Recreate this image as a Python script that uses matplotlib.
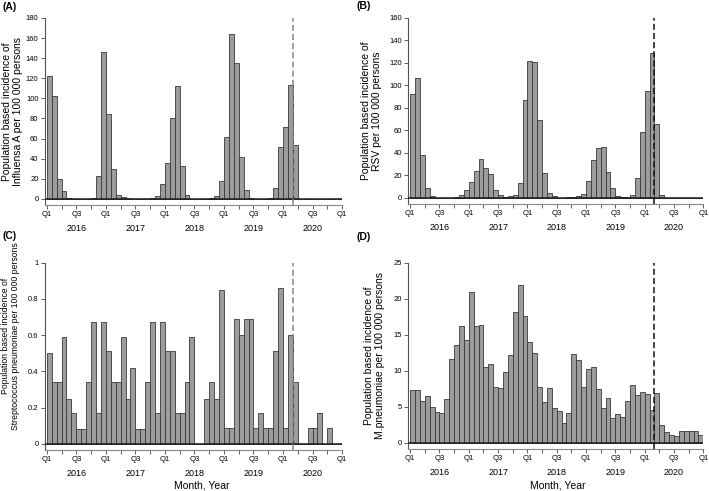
import numpy as np
import matplotlib.pyplot as plt

plt.rcParams['font.family'] = ['Liberation Sans', 'DejaVu Sans']

# monthly population based incidence per 100 000 persons, Jan 2016 - Dec 2020
influenza_a = [122, 102, 20, 8, 1, 0, 0, 0, 0, 1, 23, 146,
               84, 30, 4, 2, 1, 0, 0, 0, 0, 0.5, 3, 15,
               36, 80, 112, 33, 4, 0, 0, 0, 0, 1, 3, 18,
               62, 164, 135, 42, 9, 1, 0, 0, 0, 1, 11, 52,
               71, 113, 54, 0, 0, 0, 0, 0, 0, 0, 0, 0]

rsv = [92, 107, 38, 9, 2, 0.3, 0.3, 0.3, 0.3, 1, 2.5, 7,
       14, 24, 35, 27, 21, 7, 2.5, 1, 1.5, 3, 13, 87,
       122, 121, 69, 22, 4.5, 1.5, 0.3, 0.2, 0.5, 1, 1.5, 3.5,
       15, 34, 44, 45, 23, 8.5, 2, 1, 0.5, 3, 18, 59,
       95, 129, 66, 2.5, 0.3, 0.3, 0.3, 0.2, 0.2, 0.3, 0.2, 0.2]

s_pneumoniae = [0.50, 0.34, 0.34, 0.59, 0.25, 0.17, 0.08, 0.08, 0.34, 0.67, 0.17, 0.67,
                0.51, 0.34, 0.34, 0.59, 0.25, 0.42, 0.08, 0.08, 0.34, 0.67, 0.17, 0.67,
                0.51, 0.51, 0.17, 0.17, 0.34, 0.59, 0, 0, 0.25, 0.34, 0.25, 0.85,
                0.09, 0.09, 0.69, 0.60, 0.69, 0.69, 0.09, 0.17, 0.09, 0.09, 0.51, 0.86,
                0.09, 0.60, 0.34, 0, 0, 0.09, 0.09, 0.17, 0, 0.09, 0, 0]

m_pneumoniae = [7.3, 7.3, 5.8, 6.5, 5.0, 4.3, 4.1, 6.1, 11.7, 13.6, 16.2, 14.3,
                21.0, 16.3, 16.4, 10.6, 10.9, 7.7, 7.6, 9.9, 12.2, 18.2, 21.9, 17.7,
                14.0, 12.5, 7.8, 5.7, 7.6, 4.8, 4.4, 2.8, 4.1, 12.3, 11.5, 7.8,
                10.2, 10.5, 7.5, 4.9, 6.3, 3.5, 4.0, 3.6, 5.8, 8.0, 6.6, 7.1,
                6.8, 4.6, 6.9, 2.5, 1.5, 1.1, 0.9, 1.6, 1.7, 1.6, 1.6, 1.1]

years = ["2016", "2017", "2018", "2019", "2020"]
covid_month = 50  # start of March 2020


'''
draws one panel of monthly bars with the quarter / year axis
'''


def barpanel(ax, values, ymax, ystep, ylabel, line_color, label_size=7.5):
    months = np.arange(len(values))
    ax.bar(months, values, width=1, align='edge', color='#9c9c9c',
           edgecolor='#3a3a3a', linewidth=0.6, zorder=2)
    ax.axhline(0, color='#1a1a1a', lw=1.1, zorder=3)
    ax.axvline(covid_month, color=line_color, ls=(0, (4, 2)), lw=1.1, zorder=4)

    ax.set_xlim(-0.35, len(values))
    ax.set_ylim(-0.034 * ymax, ymax)
    yt = np.arange(0, ymax + ystep / 2, ystep)
    ax.set_yticks(yt)
    ax.set_yticklabels([("%g" % round(v, 2)) for v in yt])

    # quarter ticks, labels only for Q1 and Q3
    qticks = np.arange(0, len(values) + 1, 3)
    qlabels = []
    for q in qticks:
        if q % 12 == 0:
            qlabels.append("Q1")
        elif q % 12 == 6:
            qlabels.append("Q3")
        else:
            qlabels.append("")
    ax.set_xticks(qticks)
    ax.set_xticklabels(qlabels)

    for i, yr in enumerate(years):
        ax.text(6 + 12 * i, -0.125, yr, transform=ax.get_xaxis_transform(),
                ha='center', va='center', fontsize=6.5)

    ax.spines['top'].set_visible(False)
    ax.spines['right'].set_visible(False)
    ax.spines['left'].set_color('#555555')
    ax.spines['bottom'].set_color('#888888')
    ax.spines['left'].set_linewidth(0.8)
    ax.spines['bottom'].set_linewidth(0.8)
    ax.tick_params(axis='y', length=3.2, width=0.6, pad=1.5, labelsize=5.5,
                   color='#444444')
    ax.tick_params(axis='x', length=3.2, width=0.6, pad=1, labelsize=5.5,
                   color='#444444')

    ax.set_ylabel(ylabel, fontsize=label_size, linespacing=1.1)


fig = plt.figure(figsize=(7.09, 4.91), dpi=100)

ax_a = fig.add_axes([0.0635, 0.5825, 0.419, 0.381])
ax_b = fig.add_axes([0.576, 0.5845, 0.416, 0.379])
ax_c = fig.add_axes([0.0635, 0.0835, 0.419, 0.3815])
ax_d = fig.add_axes([0.576, 0.0855, 0.416, 0.3789])

barpanel(ax_a, influenza_a, 180, 20,
         "Population based incidence of\nInfluensa A per 100 000 persons", '#888888')
barpanel(ax_b, rsv, 160, 20,
         "Population based incidence of\nRSV per 100 000 persons", '#111111')
barpanel(ax_c, s_pneumoniae, 1, 0.2,
         "Population based incidence of\nStreptococcus pneumoniae per 100 000 persons",
         '#888888', label_size=6.2)
barpanel(ax_d, m_pneumoniae, 25, 5,
         "Population based incidence of\nM.pneumoniae per 100 000 persons", '#111111')

# y label placement (right edge of the label, axes coords)
ax_a.yaxis.set_label_coords(-0.074, 0.5)
ax_b.yaxis.set_label_coords(-0.09, 0.5)
ax_c.yaxis.set_label_coords(-0.084, 0.609)
ax_d.yaxis.set_label_coords(-0.079, 0.5)

# panel tags
for tag, x, y in [("(A)", 10, 7), ("(B)", 364, 6), ("(C)", 10, 236), ("(D)", 364, 237)]:
    fig.text(x / 709, 1 - y / 491, tag, fontsize=7.5, fontweight='bold',
             ha='center', va='center')

ax_c.text(0.528, -0.19, "Month, Year", transform=ax_c.transAxes,
          ha='center', va='center', fontsize=7.5)
ax_d.text(0.507, -0.197, "Month, Year", transform=ax_d.transAxes,
          ha='center', va='center', fontsize=7.5)

plt.savefig("out.png")
